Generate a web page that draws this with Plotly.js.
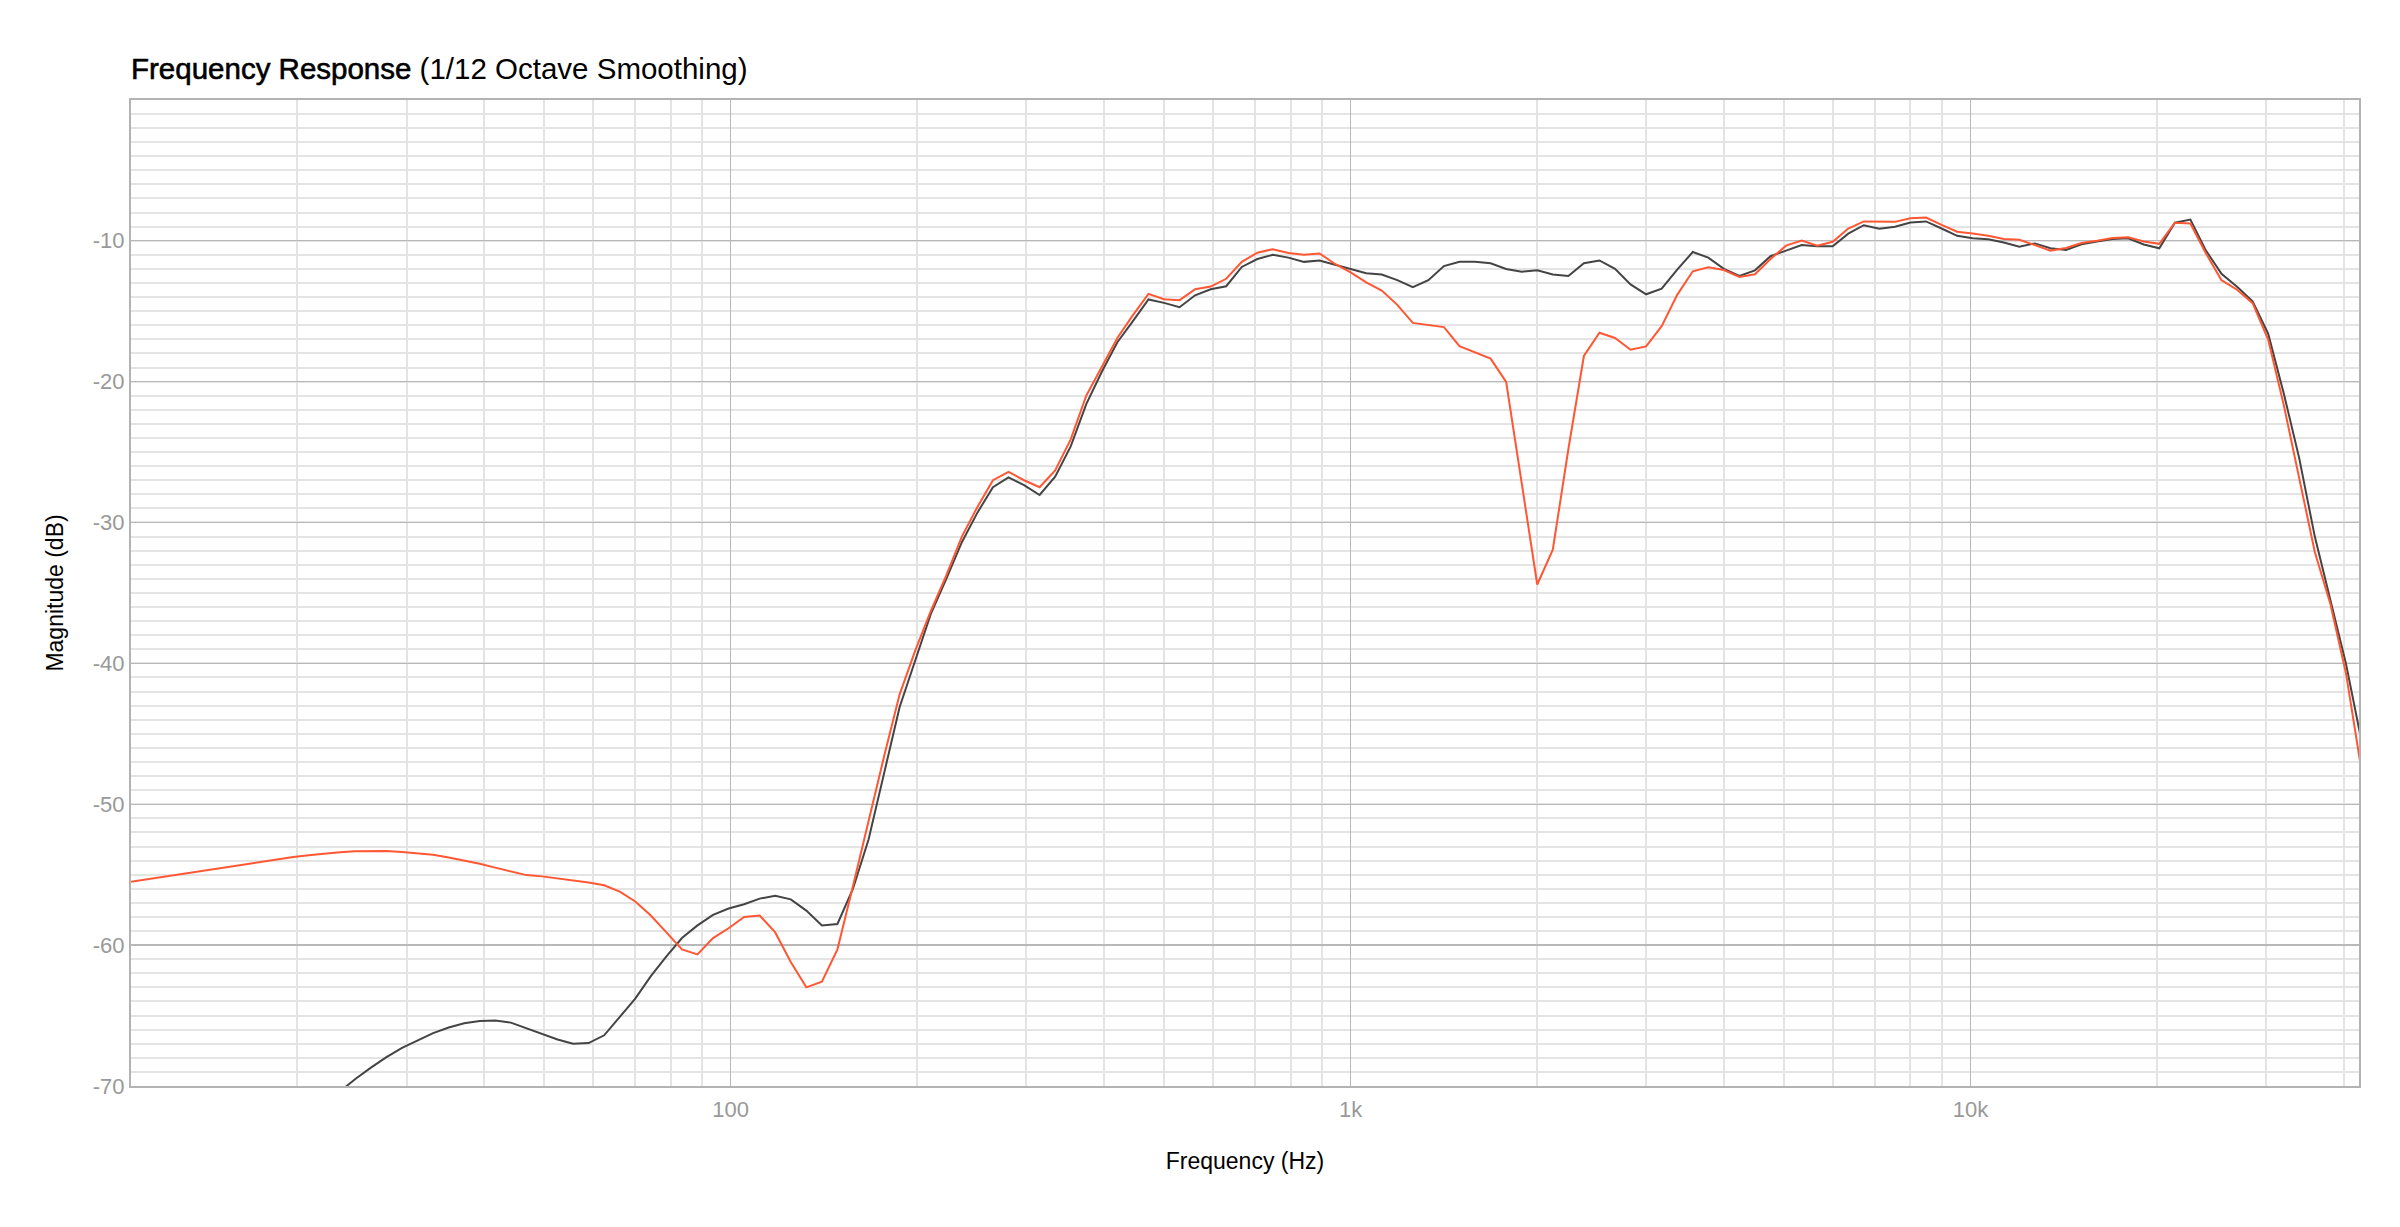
<!DOCTYPE html>
<html>
<head>
<meta charset="utf-8">
<script src="https://cdn.plot.ly/plotly-3.0.1.min.js"></script>
<style>html,body{margin:0;padding:0;background:#fff;}#chart{width:2400px;height:1227px;}</style>
</head>
<body>
<div id="chart"></div>
<script>
// Frequencies (Hz), 1/12-octave spacing
var freqs = [10.43, 11.05, 11.71, 12.40, 13.14, 13.92, 14.75,
  15.63, 16.55, 17.54, 18.58, 19.69, 20.86, 22.10, 23.41, 24.80, 26.28, 27.84, 29.50,
  31.25, 33.11, 35.08, 37.16, 39.37, 41.71, 44.19, 46.82, 49.61, 52.56, 55.68, 58.99,
  62.5, 66.22, 70.15, 74.33, 78.75, 83.43, 88.39, 93.64, 99.21, 105.11, 111.36, 117.98,
  125.0, 132.43, 140.31, 148.65, 157.49, 166.86, 176.78, 187.29, 198.43, 210.22, 222.72, 235.97,
  250.0, 264.87, 280.62, 297.30, 314.98, 333.71, 353.55, 374.58, 396.85, 420.45, 445.45, 471.94,
  500.0, 529.73, 561.23, 594.60, 629.96, 667.42, 707.11, 749.15, 793.70, 840.90, 890.90, 943.87,
  1000, 1059.5, 1122.5, 1189.2, 1259.9, 1334.8, 1414.2, 1498.3, 1587.4, 1681.8, 1781.8, 1887.7,
  2000, 2118.9, 2244.9, 2378.4, 2519.8, 2669.7, 2828.4, 2996.6, 3174.8, 3363.6, 3563.6, 3775.5,
  4000, 4237.8, 4489.8, 4756.8, 5039.7, 5339.4, 5656.9, 5993.2, 6349.6, 6727.2, 7127.2, 7551.0,
  8000, 8475.7, 8979.7, 9513.7, 10079, 10679, 11314, 11986, 12699, 13454, 14254, 15102,
  16000, 16951, 17959, 19027, 20159, 21357, 22627, 23973, 25398, 26909, 28509, 30204,
  32000, 33903, 35919, 38055, 40318, 42715];

// Magnitude (dB), dark trace
var magDark = [-86.8, -85.5, -84.2, -82.9, -81.6, -80.3, -79.0,
  -77.8, -76.6, -75.4, -74.2, -73.1, -72.0, -71.1, -70.4, -69.5, -68.7, -67.95, -67.3,
  -66.75, -66.25, -65.85, -65.55, -65.38, -65.35, -65.5, -65.9, -66.3, -66.7, -67.0, -66.95,
  -66.4, -65.1, -63.8, -62.2, -60.8, -59.5, -58.6, -57.85, -57.4, -57.1, -56.7, -56.5,
  -56.75, -57.55, -58.6, -58.5, -56.0, -52.5, -47.8, -43.1, -39.8, -36.5, -34.0, -31.4,
  -29.3, -27.5, -26.8, -27.35, -28.05, -26.75, -24.6, -21.6, -19.3, -17.2, -15.7, -14.17,
  -14.41, -14.72, -13.87, -13.44, -13.23, -11.86, -11.3, -11.0, -11.2, -11.5, -11.4, -11.7,
  -12.0, -12.3, -12.4, -12.8, -13.3, -12.8, -11.8, -11.5, -11.5, -11.6, -12.0, -12.2,
  -12.1, -12.4, -12.5, -11.6, -11.4, -12.0, -13.1, -13.8, -13.4, -12.05, -10.8, -11.2,
  -12.0, -12.5, -12.1, -11.1, -10.7, -10.3, -10.4, -10.4, -9.5, -8.9, -9.15, -9.0,
  -8.7, -8.63, -9.13, -9.65, -9.83, -9.9, -10.12, -10.42, -10.19, -10.53, -10.65, -10.25,
  -10.05, -9.88, -9.83, -10.27, -10.54, -8.72, -8.5, -10.7, -12.34, -13.26, -14.3, -16.6,
  -20.82, -25.45, -31.0, -35.5, -40.0, -45.5];

// Magnitude (dB), orange trace
var magOrange = [-55.6, -55.43, -55.26, -55.09, -54.92, -54.75, -54.58,
  -54.40, -54.23, -54.07, -53.91, -53.75, -53.62, -53.50, -53.41, -53.33, -53.30, -53.32, -53.39,
  -53.48, -53.59, -53.78, -54.0, -54.23, -54.5, -54.78, -55.03, -55.12, -55.25, -55.4, -55.55,
  -55.75, -56.2, -56.9, -57.9, -59.1, -60.3, -60.66, -59.5, -58.8, -58.0, -57.9, -59.1,
  -61.2, -63.0, -62.6, -60.3, -55.8, -51.1, -46.6, -42.2, -39.1, -36.3, -33.75, -31.0,
  -28.9, -27.0, -26.4, -27.0, -27.5, -26.3, -24.1, -21.0, -19.0, -16.9, -15.28, -13.77,
  -14.15, -14.22, -13.44, -13.25, -12.7, -11.5, -10.85, -10.6, -10.87, -11.0, -10.9, -11.65,
  -12.24, -12.95, -13.54, -14.55, -15.83, -15.97, -16.13, -17.48, -17.9, -18.37, -20.02, -27.3,
  -34.4, -31.93, -24.8, -18.18, -16.53, -16.9, -17.74, -17.5, -16.06, -13.84, -12.17, -11.89,
  -12.08, -12.57, -12.38, -11.3, -10.35, -9.98, -10.35, -10.07, -9.13, -8.63, -8.63, -8.66,
  -8.4, -8.35, -8.87, -9.36, -9.48, -9.65, -9.88, -9.93, -10.31, -10.7, -10.52, -10.16,
  -10.0, -9.8, -9.76, -10.05, -10.22, -8.72, -8.78, -10.9, -12.8, -13.48, -14.43, -17.02,
  -21.64, -26.8, -32.1, -35.78, -40.68, -47.6];

var yTickVals = [-70, -60, -50, -40, -30, -20, -10];
var yTickText = ['-70', '-60', '-50', '-40', '-30', '-20', '-10'];

var titleMain = 'Frequency Response';
var titleSub = '(1/12 Octave Smoothing)';
var xTitle = 'Frequency (Hz)';
var yTitle = 'Magnitude (dB)';

var FONT = '"Helvetica Neue", Helvetica, Arial, "Liberation Sans", sans-serif';

var traces = [
  {x: freqs, y: magDark, type: 'scatter', mode: 'lines', name: 'Dark',
   line: {color: '#444444', width: 2}, hoverinfo: 'skip'},
  {x: freqs, y: magOrange, type: 'scatter', mode: 'lines', name: 'Orange',
   line: {color: '#ff5733', width: 2}, hoverinfo: 'skip'}
];

var layout = {
  width: 2400, height: 1227,
  margin: {l: 131, r: 41, t: 100, b: 141, pad: 0},
  paper_bgcolor: '#ffffff', plot_bgcolor: '#ffffff',
  showlegend: false,
  font: {family: FONT, size: 18, color: '#000'},
  title: {
    text: '<span style="stroke:#000;stroke-width:0.6px">' + titleMain + '</span> ' + titleSub,
    x: 131 / 2400, xref: 'container', xanchor: 'left',
    y: 1 - 69 / 1227, yref: 'container', yanchor: 'middle',
    font: {family: FONT, size: 29.5, color: '#000'}
  },
  xaxis: {
    type: 'log', range: [1.0326, 4.6266], dtick: 1, tickformat: '~s',
    showgrid: true, gridcolor: '#b8b8b8', gridwidth: 1.5,
    minor: {dtick: 'D1', showgrid: true, gridcolor: '#e4e4e4', gridwidth: 2, ticks: ''},
    showline: true, linecolor: '#b3b3b3', linewidth: 2, mirror: true,
    zeroline: false, ticks: '', ticklabelstandoff: 3,
    tickfont: {family: FONT, size: 22, color: '#999999'},
    title: {text: xTitle, standoff: 31, font: {family: FONT, size: 23, color: '#000'}}
  },
  yaxis: {
    range: [-70, -0.01], tickmode: 'array', tickvals: yTickVals, ticktext: yTickText,
    showgrid: true, gridcolor: '#b8b8b8', gridwidth: 1.5,
    minor: {tickmode: 'linear', dtick: 1, tick0: 0, showgrid: true, gridcolor: '#e4e4e4', gridwidth: 2, ticks: ''},
    showline: true, linecolor: '#b3b3b3', linewidth: 2, mirror: true,
    zeroline: false, ticks: '',
    tickfont: {family: FONT, size: 22, color: '#999999'},
    title: {text: yTitle, standoff: 23, font: {family: FONT, size: 23, color: '#000'}}
  }
};

Plotly.newPlot('chart', traces, layout, {displayModeBar: false, staticPlot: true});
</script>
</body>
</html>
